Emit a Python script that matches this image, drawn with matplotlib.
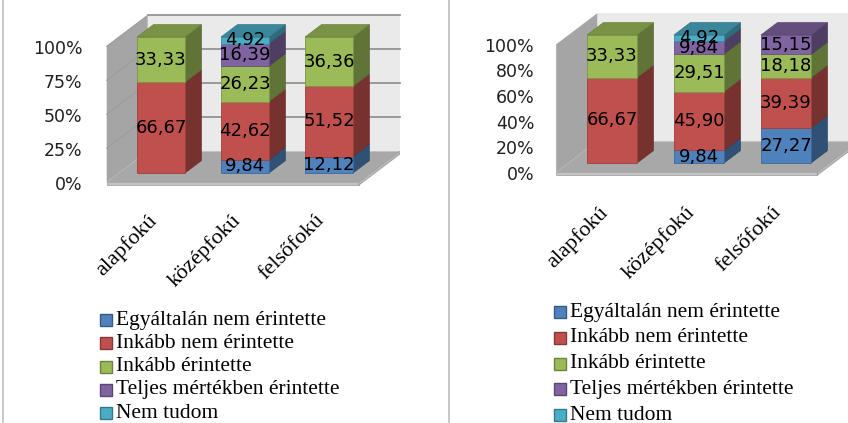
import numpy as np
import matplotlib
matplotlib.use("Agg")
import matplotlib.pyplot as plt
from matplotlib.patches import Polygon, Rectangle
from matplotlib.lines import Line2D
from matplotlib.colors import to_rgb

# ---------- adatok ----------
categories = ["alapfokú", "középfokú", "felsőfokú"]
series_names = ["Egyáltalán nem érintette", "Inkább nem érintette", "Inkább érintette",
                "Teljes mértékben érintette", "Nem tudom"]

# bal oldali diagram (%)
left_egyaltalan = [0.00, 9.84, 12.12]
left_inkabb_nem = [66.67, 42.62, 51.52]
left_inkabb = [33.33, 26.23, 36.36]
left_teljes = [0.00, 16.39, 0.00]
left_nem_tudom = [0.00, 4.92, 0.00]
left_ticks = [0, 25, 50, 75, 100]

# jobb oldali diagram (%)
right_egyaltalan = [0.00, 9.84, 27.27]
right_inkabb_nem = [66.67, 45.90, 39.39]
right_inkabb = [33.33, 29.51, 18.18]
right_teljes = [0.00, 9.84, 15.15]
right_nem_tudom = [0.00, 4.92, 0.00]
right_ticks = [0, 20, 40, 60, 80, 100]

colors = ["#4F81BD", "#C0504D", "#9BBB59", "#8064A2", "#4BACC6"]

W, H = 848, 423
fig = plt.figure(figsize=(W / 100, H / 100), dpi=100)
fig.patch.set_facecolor("white")


def shade(c, f):
    return tuple(np.clip(np.array(to_rgb(c)) * f, 0, 1))


def make_axes(x0, x1, ytop, ybot):
    ax = fig.add_axes([x0 / W, (H - ybot) / H, (x1 - x0) / W, (ybot - ytop) / H])
    ax.set_xlim(-0.5, len(categories) - 0.5)
    ax.set_ylim(0, 100)
    ax.axis("off")
    return ax


def draw_panel(ax, values, yticks, grid, pad, bar_w, cat_off, depth=(41, 31)):
    n = len(categories)
    pxx = ax.bbox.width / n
    pxy = ax.bbox.height / 100
    ddx, ddy = depth[0] / pxx, depth[1] / pxy
    z0, z1, bz = -0.3, 0.7, 0.4
    xa, xb = -0.5, n - 0.5

    def P(x, y, z):
        return (x + z * ddx, y + z * ddy)

    def poly(pts, fc, ec="none", lw=0.0, zo=1):
        ax.add_patch(Polygon(pts, closed=True, facecolor=fc, edgecolor=ec, lw=lw,
                             zorder=zo, clip_on=False, joinstyle="miter"))

    # falak, padló
    poly([P(xa, 0, z1), P(xb, 0, z1), P(xb, 100, z1), P(xa, 100, z1)], "#EAEAEA")
    poly([P(xa, 0, z0), P(xa, 0, z1), P(xa, 100, z1), P(xa, 100, z0)], "#A5A5A5")
    poly([P(xa, 0, z0), P(xb, 0, z0), P(xb, 0, z1), P(xa, 0, z1)], "#A8A8A8")
    t = 3 / pxy
    poly([P(xa, 0, z0), P(xb, 0, z0), P(xb, -t, z0), P(xa, -t, z0)], "#C4C4C4",
         ec="#9A9A9A", lw=0.5)
    poly([P(xb, 0, z0), P(xb, 0, z1), P(xb, -t, z1), P(xb, -t, z0)], "#B8B8B8",
         ec="#9A9A9A", lw=0.5)

    # rácsvonalak
    for v in grid:
        p, q = P(xa, v, z1), P(xb, v, z1)
        ax.plot([p[0], q[0]], [p[1], q[1]], color="#8C8C8C", lw=1.2, zorder=2, clip_on=False)
        p, q = P(xa, v, z0), P(xa, v, z1)
        ax.plot([p[0], q[0]], [p[1], q[1]], color="#9C9C9C", lw=0.8, zorder=2, clip_on=False)

    # oszlopok
    for i in range(n):
        segs = [(k, values[k][i]) for k in range(len(values)) if values[k][i] > 0]
        base = 0.0
        for j, (k, v) in enumerate(segs):
            xl, xr = i - bar_w / 2, i + bar_w / 2
            yb, yt = base, base + v
            c = colors[k]
            poly([P(xr, yb, 0), P(xr, yb, bz), P(xr, yt, bz), P(xr, yt, 0)],
                 shade(c, 0.62), ec=shade(c, 0.55), lw=0.5, zo=3)
            poly([P(xl, yb, 0), P(xr, yb, 0), P(xr, yt, 0), P(xl, yt, 0)],
                 c, ec=shade(c, 0.8), lw=0.6, zo=3)
            if j == len(segs) - 1:
                poly([P(xl, yt, 0), P(xr, yt, 0), P(xr, yt, bz), P(xl, yt, bz)],
                     shade(c, 0.78), ec=shade(c, 0.7), lw=0.5, zo=3)
            ax.text(i, (yb + yt) / 2, f"{v:.2f}".replace(".", ","), ha="center",
                    va="center", fontsize=13, family="DejaVu Sans", color="black",
                    zorder=10)
            base = yt

    # tengelyfeliratok
    for v in yticks:
        ax.annotate(f"{v}%", xy=P(xa, v, z0), xytext=(-pad, -2.5),
                    textcoords="offset pixels", ha="right", va="center",
                    fontsize=12.5, family="DejaVu Sans", color="#202020",
                    annotation_clip=False)
    for i, name in enumerate(categories):
        ax.annotate(name, xy=(i, 0), xytext=cat_off, textcoords="offset pixels",
                    ha="right", va="top", rotation=45, rotation_mode="anchor",
                    fontsize=16, family="Liberation Serif", color="black",
                    annotation_clip=False)


def draw_legend(x, y0, pitch):
    for k, name in enumerate(series_names):
        yc = y0 + k * pitch
        fig.patches.append(Rectangle(((x) / W, (H - yc - 6) / H), 12 / W, 12 / H,
                                     transform=fig.transFigure, facecolor=colors[k],
                                     edgecolor=shade(colors[k], 0.7), lw=1.0))
        fig.text((x + 16) / W, (H - yc) / H, name, ha="left", va="center",
                 fontsize=15.5, family="Liberation Serif", color="black")


left_values = [left_egyaltalan, left_inkabb_nem, left_inkabb, left_teljes, left_nem_tudom]
right_values = [right_egyaltalan, right_inkabb_nem, right_inkabb, right_teljes, right_nem_tudom]

ax1 = make_axes(119, 371, 37, 173)
draw_panel(ax1, left_values, left_ticks, [25, 50, 75, 100], 24, 0.57, (-14, -38))
ax2 = make_axes(568.5, 829.5, 35, 163)
draw_panel(ax2, right_values, right_ticks, [], 22, 0.575, (-14, -40))

draw_legend(100, 320, 23.25)
draw_legend(554, 312, 25.75)

for xl in (2.5, 448.5):
    fig.add_artist(Line2D([xl / W, xl / W], [1.5 / H, 1.0], transform=fig.transFigure,
                          color="#BEBEBE", lw=1.2))

fig.savefig("out.png", dpi=100)
